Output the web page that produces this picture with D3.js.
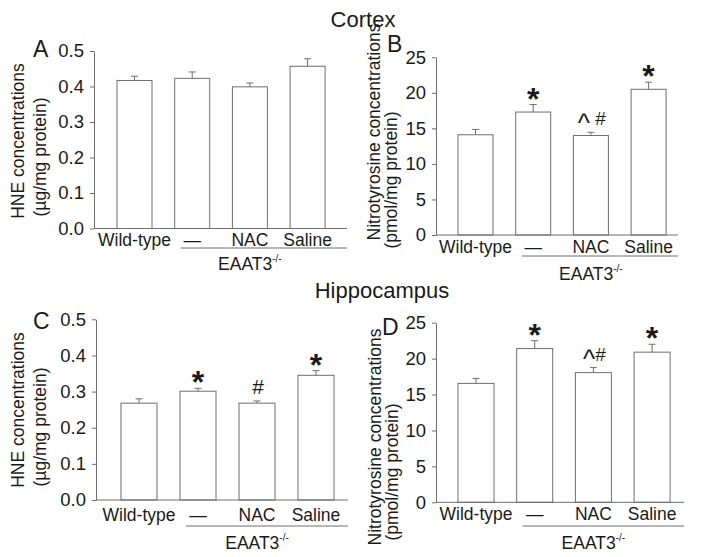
<!DOCTYPE html>
<html><head><meta charset="utf-8">
<script src="https://cdn.jsdelivr.net/npm/d3@7"></script>
<style>
body{margin:0;background:#fff;}
text{font-family:"Liberation Sans",Arial,sans-serif;fill:#1a1a1a;}
</style></head>
<body><svg id="c" width="703" height="557"></svg>
<script>
// ---- data ----
const categories = ["Wild-type", "\u2014", "NAC", "Saline"];
const cortexHNE = [0.417, 0.423, 0.399, 0.457];
const cortexHNEErr = [0.012, 0.018, 0.011, 0.021];
const cortexNT = [14.1, 17.3, 14.0, 20.5];
const cortexNTErr = [0.75, 1.05, 0.45, 1.0];
const hippoHNE = [0.268, 0.301, 0.268, 0.345];
const hippoHNEErr = [0.012, 0.008, 0.006, 0.013];
const hippoNT = [16.55, 21.4, 18.05, 20.9];
const hippoNTErr = [0.7, 1.1, 0.7, 1.1];
const cortexHNEMarks = ["", "", "", ""];
const cortexNTMarks = ["", "*", "^ #", "*"];
const hippoHNEMarks = ["", "*", "#", "*"];
const hippoNTMarks = ["", "*", "^#", "*"];
const hneTicks = [0, 0.1, 0.2, 0.3, 0.4, 0.5];
const ntTicks = [0, 5, 10, 15, 20, 25];
const groupLabel = "EAAT3";
const groupSup = "-/-";
const titles = ["Cortex", "Hippocampus"];

// ---- layout ----
const svg = d3.select("#c");
const gray = "#6e6e6e";

const panels = [
  {letter:"A", vals:cortexHNE, err:cortexHNEErr, marks:cortexHNEMarks, ticks:hneTicks, fmt:d3.format(".1f"),
   ax:94, axEnd:347, yTop:51, yBot:228.5, b0:117, step:57.7, bw:35,
   lab1:"HNE concentrations", lab2:"(\u00b5g/mg protein)", l1x:24, l2x:46, l1y:141, l2y:157,
   lx:33, ly:57, xlabY:246, ulY:248, grpY:270},
  {letter:"B", vals:cortexNT, err:cortexNTErr, marks:cortexNTMarks, ticks:ntTicks, fmt:d3.format("d"),
   ax:436, axEnd:678, yTop:57.3, yBot:235, b0:458, step:57.7, bw:35,
   lab1:"Nitrotyrosine concentrations", lab2:"(pmol/mg protein)", l1x:380, l2x:397, l1y:132, l2y:180,
   lx:387, ly:52, xlabY:253, ulY:256, grpY:280},
  {letter:"C", vals:hippoHNE, err:hippoHNEErr, marks:hippoHNEMarks, ticks:hneTicks, fmt:d3.format(".1f"),
   ax:96, axEnd:348, yTop:319.3, yBot:500, b0:121, step:59, bw:36,
   lab1:"HNE concentrations", lab2:"(\u00b5g/mg protein)", l1x:24, l2x:46, l1y:410, l2y:427,
   lx:33, ly:329, xlabY:521, ulY:526, grpY:549},
  {letter:"D", vals:hippoNT, err:hippoNTErr, marks:hippoNTMarks, ticks:ntTicks, fmt:d3.format("d"),
   ax:436, axEnd:684, yTop:322.7, yBot:502.3, b0:458, step:58.7, bw:36,
   lab1:"Nitrotyrosine concentrations", lab2:"(pmol/mg protein)", l1x:381, l2x:398, l1y:437, l2y:472,
   lx:382, ly:335, xlabY:520, ulY:526, grpY:549}
];

// titles
svg.append("text").attr("x",363).attr("y",27).attr("text-anchor","middle").attr("font-size",22).text(titles[0]);
svg.append("text").attr("x",382).attr("y",298).attr("text-anchor","middle").attr("font-size",22).text(titles[1]);

panels.forEach(p => {
  const g = svg.append("g");
  const y = d3.scaleLinear().domain([0, d3.max(p.ticks)]).range([p.yBot, p.yTop]);
  const pi = 1 - p.bw / p.step;
  const x = d3.scaleBand().domain(categories)
    .range([p.b0 - p.step * pi / 2, p.b0 - p.step * pi / 2 + categories.length * p.step])
    .paddingInner(pi).paddingOuter(pi / 2);

  // y axis
  const ya = g.append("g").attr("transform", `translate(${p.ax},0)`)
    .call(d3.axisLeft(y).tickValues(p.ticks).tickFormat(p.fmt).tickSize(4).tickSizeOuter(0).tickPadding(6));
  ya.select(".domain").attr("stroke", gray);
  ya.selectAll(".tick line").attr("stroke", gray);
  ya.selectAll(".tick text").attr("font-size", 18.5).attr("fill", "#1a1a1a")
    .attr("font-family", "'Liberation Sans', Arial, sans-serif");

  // bars
  const data = categories.map((c, i) => ({c, v: p.vals[i], e: p.err[i], m: p.marks[i]}));
  g.selectAll("rect.bar").data(data).join("rect").attr("class", "bar")
    .attr("x", d => x(d.c)).attr("width", x.bandwidth())
    .attr("y", d => y(d.v)).attr("height", d => y(0) - y(d.v))
    .attr("fill", "#fff").attr("stroke", gray).attr("stroke-width", 1);

  // error bars
  g.selectAll("line.eb").data(data).join("line").attr("class", "eb")
    .attr("x1", d => x(d.c) + x.bandwidth() / 2).attr("x2", d => x(d.c) + x.bandwidth() / 2)
    .attr("y1", d => y(d.v)).attr("y2", d => y(d.v + d.e)).attr("stroke", gray);
  g.selectAll("line.cap").data(data).join("line").attr("class", "cap")
    .attr("x1", d => x(d.c) + x.bandwidth() / 2 - 3.5).attr("x2", d => x(d.c) + x.bandwidth() / 2 + 3.5)
    .attr("y1", d => y(d.v + d.e)).attr("y2", d => y(d.v + d.e)).attr("stroke", gray);

  // x axis line
  g.append("line").attr("x1", p.ax).attr("x2", p.axEnd).attr("y1", y(0)).attr("y2", y(0)).attr("stroke", gray);

  // annotations
  data.forEach(d => {
    if (!d.m) return;
    const cx = x(d.c) + x.bandwidth() / 2;
    const top = y(d.v + d.e);
    if (d.m === "*") {
      g.append("text").attr("x", cx).attr("y", top + 5).attr("text-anchor", "middle")
        .attr("font-size", 32).attr("font-weight", "bold").text("*");
    } else {
      const t = g.append("text").attr("x", cx + 1).attr("y", top - 7).attr("text-anchor", "middle")
        .attr("font-size", p.letter === "C" ? 21 : 19);
      if (d.m.startsWith("^")) {
        t.append("tspan").attr("font-size", 26).attr("dy", 7).text("^");
        t.append("tspan").attr("dy", -7).text(d.m.slice(1));
      } else {
        t.text(d.m);
      }
    }
  });

  // x labels
  g.selectAll("text.xl").data(categories).join("text").attr("class", "xl")
    .attr("x", c => x(c) + x.bandwidth() / 2).attr("y", p.xlabY)
    .attr("text-anchor", "middle").attr("font-size", 17.5).text(c => c);

  // group underline and label
  g.append("line").attr("x1", x(categories[1]) + 6).attr("x2", p.axEnd)
    .attr("y1", p.ulY).attr("y2", p.ulY).attr("stroke", gray);
  const gt = g.append("text").attr("x", x(categories[2]) + x.bandwidth() / 2).attr("y", p.grpY)
    .attr("text-anchor", "middle").attr("font-size", 17.5);
  gt.append("tspan").text(groupLabel);
  gt.append("tspan").attr("font-size", 10).attr("dy", -8).text(groupSup);

  // y labels
  g.append("text").attr("transform", `translate(${p.l1x},${p.l1y}) rotate(-90)`)
    .attr("text-anchor", "middle").attr("font-size", 17.5).text(p.lab1);
  g.append("text").attr("transform", `translate(${p.l2x},${p.l2y}) rotate(-90)`)
    .attr("text-anchor", "middle").attr("font-size", 17.5).text(p.lab2);

  // panel letter
  g.append("text").attr("x", p.lx).attr("y", p.ly).attr("font-size", 23).text(p.letter);
});
</script></body></html>
